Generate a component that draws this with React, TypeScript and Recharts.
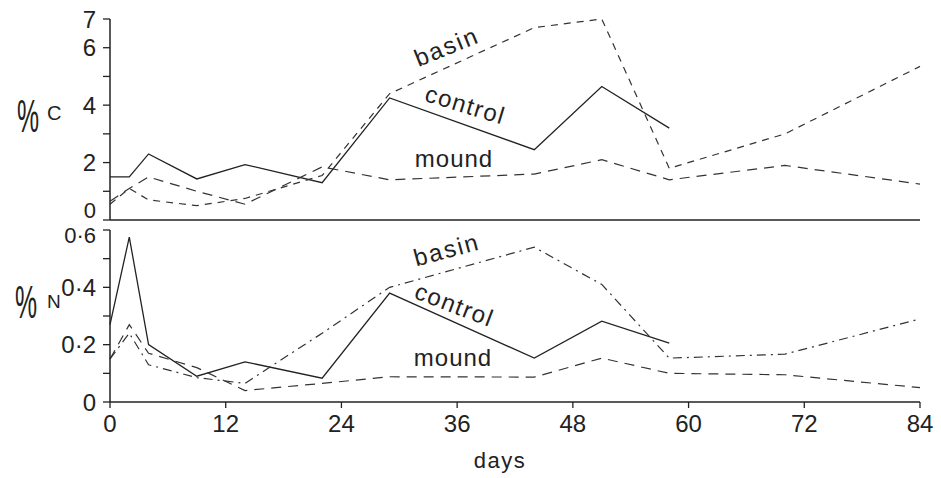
import { LineChart, Line, XAxis, YAxis } from "recharts";

// sampling days (shared by both panels)
const days = [0, 2, 4, 9, 14, 22, 29, 44, 51, 58, 70, 84];

// %C
const controlC = [1.5, 1.5, 2.3, 1.43, 1.93, 1.3, 4.25, 2.45, 4.65, 3.2, null, null];
const basinC = [0.55, 1.1, 0.7, 0.5, 0.75, 1.55, 4.4, 6.7, 7.0, 1.8, 3.0, 5.35];
const moundC = [0.65, 1.1, 1.5, 1.0, 0.55, 1.85, 1.4, 1.6, 2.1, 1.4, 1.9, 1.25];

// %N
const controlN = [0.27, 0.575, 0.2, 0.09, 0.14, 0.083, 0.38, 0.153, 0.282, 0.205, null, null];
const basinN = [0.15, 0.24, 0.13, 0.085, 0.065, 0.24, 0.4, 0.54, 0.41, 0.153, 0.167, 0.29];
const moundN = [0.15, 0.27, 0.17, 0.12, 0.04, 0.065, 0.088, 0.087, 0.153, 0.1, 0.095, 0.05];

const dayTicks = [0, 12, 24, 36, 48, 60, 72, 84];
const cTicks = [0, 1, 2, 3, 4, 5, 6, 7];
const cLabelled = [0, 2, 4, 6, 7];
const nTicks = [0, 0.1, 0.2, 0.3, 0.4, 0.5, 0.6];
const nLabelled = [0, 0.2, 0.4, 0.6];

const INK = "#222";
const FONT = "'Liberation Sans', Arial, sans-serif";

const rowsC = days.map((d, i) => ({ day: d, control: controlC[i], basin: basinC[i], mound: moundC[i] }));
const rowsN = days.map((d, i) => ({ day: d, control: controlN[i], basin: basinN[i], mound: moundN[i] }));

const isIn = (list: number[], v: number) => list.some((t) => Math.abs(t - v) < 1e-6);

const fmtN = (v: number) => (v === 0 ? "0" : v.toFixed(1).replace(".", "\u00b7"));

// y tick labels: minor ticks get no label; the 0 of %C and the 0·6 of %N are nudged apart
const CTick = (props: any) => {
  const { x, y, payload } = props;
  const v = payload.value;
  if (!isIn(cLabelled, v)) return <g />;
  const low = v === 0;
  return (
    <text x={x} y={low ? y - 10 : y} dy="0.36em" textAnchor="end" fontSize={low ? 22 : 24} fill={INK} fontFamily={FONT}>
      {v}
    </text>
  );
};

const NTick = (props: any) => {
  const { x, y, payload } = props;
  const v = payload.value;
  if (!isIn(nLabelled, v)) return <g />;
  const high = Math.abs(v - 0.6) < 1e-6;
  return (
    <text x={x} y={high ? y + 5 : y} dy="0.36em" textAnchor="end" fontSize={high ? 22 : 24} fill={INK} fontFamily={FONT}>
      {fmtN(v)}
    </text>
  );
};

const tickStyle = { fontSize: 24, fill: INK, fontFamily: FONT };
const axisLine = { stroke: INK, strokeWidth: 1.5 };
const tickLine = { stroke: INK, strokeWidth: 1.3 };

export default function App() {
  return (
    <div style={{ position: "absolute", left: 0, top: 0, width: 941, height: 478, background: "#fff", fontFamily: FONT }}>
      {/* top panel: %C */}
      <div style={{ position: "absolute", left: 0, top: 0 }}>
        <LineChart width={941} height={240} data={rowsC} margin={{ top: 19, right: 21, bottom: 0, left: 0 }}>
          <XAxis
            dataKey="day"
            type="number"
            domain={[0, 84]}
            ticks={dayTicks}
            tick={false}
            height={20}
            tickSize={7}
            axisLine={axisLine}
            tickLine={tickLine}
          />
          <YAxis
            type="number"
            domain={[0, 7]}
            ticks={cTicks}
            width={110}
            tickSize={7}
            tickMargin={7}
            interval={0}
            tick={<CTick />}
            axisLine={axisLine}
            tickLine={tickLine}
          />
          <Line dataKey="control" stroke={INK} strokeWidth={1.3} dot={false} isAnimationActive={false} />
          <Line dataKey="basin" stroke="#333" strokeWidth={1.2} strokeDasharray="7 6" dot={false} isAnimationActive={false} />
          <Line dataKey="mound" stroke="#333" strokeWidth={1.2} strokeDasharray="10 7" dot={false} isAnimationActive={false} />
        </LineChart>
      </div>

      {/* bottom panel: %N */}
      <div style={{ position: "absolute", left: 0, top: 0 }}>
        <LineChart width={941} height={478} data={rowsN} margin={{ top: 230, right: 21, bottom: 0, left: 0 }}>
          <XAxis
            dataKey="day"
            type="number"
            domain={[0, 84]}
            ticks={dayTicks}
            height={76}
            tickSize={6}
            tickMargin={7}
            interval={0}
            tick={tickStyle}
            axisLine={axisLine}
            tickLine={tickLine}
          />
          <YAxis
            type="number"
            domain={[0, 0.6]}
            ticks={nTicks}
            width={110}
            tickSize={7}
            tickMargin={7}
            interval={0}
            tick={<NTick />}
            axisLine={axisLine}
            tickLine={tickLine}
          />
          <Line dataKey="control" stroke={INK} strokeWidth={1.3} dot={false} isAnimationActive={false} />
          <Line dataKey="basin" stroke="#333" strokeWidth={1.2} strokeDasharray="9 5 2 5" dot={false} isAnimationActive={false} />
          <Line dataKey="mound" stroke="#333" strokeWidth={1.2} strokeDasharray="10 7" dot={false} isAnimationActive={false} />
        </LineChart>
      </div>

      {/* axis titles and series labels */}
      <svg width={941} height={478} style={{ position: "absolute", left: 0, top: 0, pointerEvents: "none" }}>
        <g fill={INK} fontFamily={FONT}>
          <text transform="translate(17,132) scale(0.54,1)" fontSize={46}>%</text>
          <text x={47} y={120} fontSize={20}>C</text>
          <text transform="translate(15,318) scale(0.54,1)" fontSize={46}>%</text>
          <text x={47} y={308} fontSize={19}>N</text>

          <text transform="translate(447,48) rotate(-22)" y={7} fontSize={24} letterSpacing={2} textAnchor="middle">basin</text>
          <text transform="translate(465,106) rotate(17)" y={7} fontSize={24} letterSpacing={1.5} textAnchor="middle">control</text>
          <text transform="translate(454,160)" y={7} fontSize={24} letterSpacing={1} textAnchor="middle">mound</text>

          <text transform="translate(447,251) rotate(-15)" y={7} fontSize={24} letterSpacing={2} textAnchor="middle">basin</text>
          <text transform="translate(454,306) rotate(21)" y={7} fontSize={24} letterSpacing={1.5} textAnchor="middle">control</text>
          <text transform="translate(453,358)" y={8} fontSize={24} letterSpacing={1} textAnchor="middle">mound</text>

          <text x={500} y={468} fontSize={22} letterSpacing={1.5} textAnchor="middle">days</text>
        </g>
      </svg>
    </div>
  );
}
